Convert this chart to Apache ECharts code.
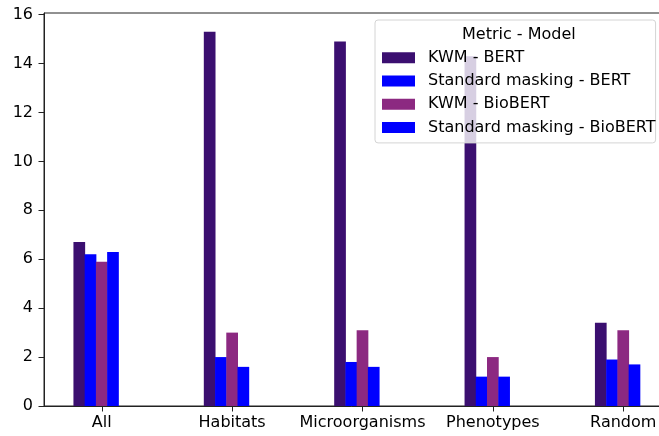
<!DOCTYPE html>
<html>
<head>
<meta charset="utf-8">
<script src="https://cdn.jsdelivr.net/npm/echarts@6/dist/echarts.min.js"></script>
<style>
  html, body { margin: 0; padding: 0; background: #fff; }
  #chart { width: 659px; height: 436px; }
</style>
</head>
<body>
<div id="chart"></div>
<script>
// Categories along the x axis
const categories = ['All', 'Habitats', 'Microorganisms', 'Phenotypes', 'Random'];

// One array per metric/model combination
const kwmBert = [6.7, 15.3, 14.9, 14.3, 3.4];
const stdBert = [6.2, 2.0, 1.8, 1.2, 1.9];
const kwmBioBert = [5.9, 3.0, 3.1, 2.0, 3.1];
const stdBioBert = [6.3, 1.6, 1.6, 1.2, 1.7];

const seriesNames = ['KWM - BERT', 'Standard masking - BERT', 'KWM - BioBERT', 'Standard masking - BioBERT'];
const seriesValues = [kwmBert, stdBert, kwmBioBert, stdBioBert];
const seriesColors = ['#3b0f70', '#0000ff', '#8c2981', '#0000ff'];

// Tick labels
const yTicks = [0, 2, 4, 6, 8, 10, 12, 14, 16];
const xTicks = categories.map((c, i) => i);

const font = 'DejaVu Sans';
const axisColor = '#222';

const chart = echarts.init(document.getElementById('chart'), null, { renderer: 'canvas' });

// Bars overlap by a fraction of a pixel so neighbours meet without seams
const barStyle = { type: 'bar', barWidth: 11.7, barGap: '-4%' };

const series = seriesNames.map((name, s) => Object.assign({
  name,
  itemStyle: { color: seriesColors[s] },
  data: seriesValues[s].map((v, i) => [i, v])
}, barStyle));

// Empty trailing slot: each group of four sits half a bar left of its tick
series.push(Object.assign({
  name: 'spacer',
  silent: true,
  itemStyle: { color: 'transparent' },
  data: xTicks.map(i => [i, null])
}, barStyle));

chart.setOption({
  animation: false,
  backgroundColor: '#ffffff',
  title: {
    text: 'Metric - Model',
    left: 462,
    top: 27,
    padding: 0,
    z: 10,
    textStyle: { fontFamily: font, fontSize: 16, lineHeight: 16, fontWeight: 'normal', color: '#000' }
  },
  legend: {
    orient: 'vertical',
    left: 375,
    top: 20,
    padding: [28.7, 0, 6.3, 7],
    itemWidth: 33,
    itemHeight: 11,
    itemGap: 5.3,
    icon: 'rect',
    backgroundColor: 'rgba(255,255,255,0.8)',
    borderColor: '#d4d4d4',
    borderWidth: 1,
    borderRadius: 3,
    z: 5,
    textStyle: {
      fontFamily: font,
      fontSize: 16,
      color: '#000',
      lineHeight: 18,
      padding: [0, 0, 0, 8]
    },
    data: seriesNames
  },
  grid: {
    left: 44,
    top: 13,
    height: 393,
    width: 637,
    outerBoundsMode: 'none',
    containLabel: false,
    show: true,
    borderColor: axisColor,
    borderWidth: 1,
    backgroundColor: 'transparent'
  },
  xAxis: {
    type: 'value',
    min: -0.443,
    max: 4.443,
    splitLine: { show: false },
    axisLine: { show: true, lineStyle: { color: axisColor, width: 1 } },
    axisTick: { show: true, length: 5.5, customValues: xTicks, lineStyle: { color: axisColor } },
    axisLabel: {
      customValues: xTicks,
      margin: 9,
      fontFamily: font,
      fontSize: 16,
      color: '#000',
      formatter: v => categories[Math.round(v)] || ''
    }
  },
  yAxis: {
    type: 'value',
    min: 0,
    max: 16.065,
    splitLine: { show: false },
    axisLine: { show: true, onZero: false, lineStyle: { color: axisColor, width: 1 } },
    axisTick: { show: true, length: 5.5, customValues: yTicks, lineStyle: { color: axisColor } },
    axisLabel: {
      customValues: yTicks,
      margin: 11,
      fontFamily: font,
      fontSize: 16,
      color: '#000'
    }
  },
  series
});
</script>
</body>
</html>
